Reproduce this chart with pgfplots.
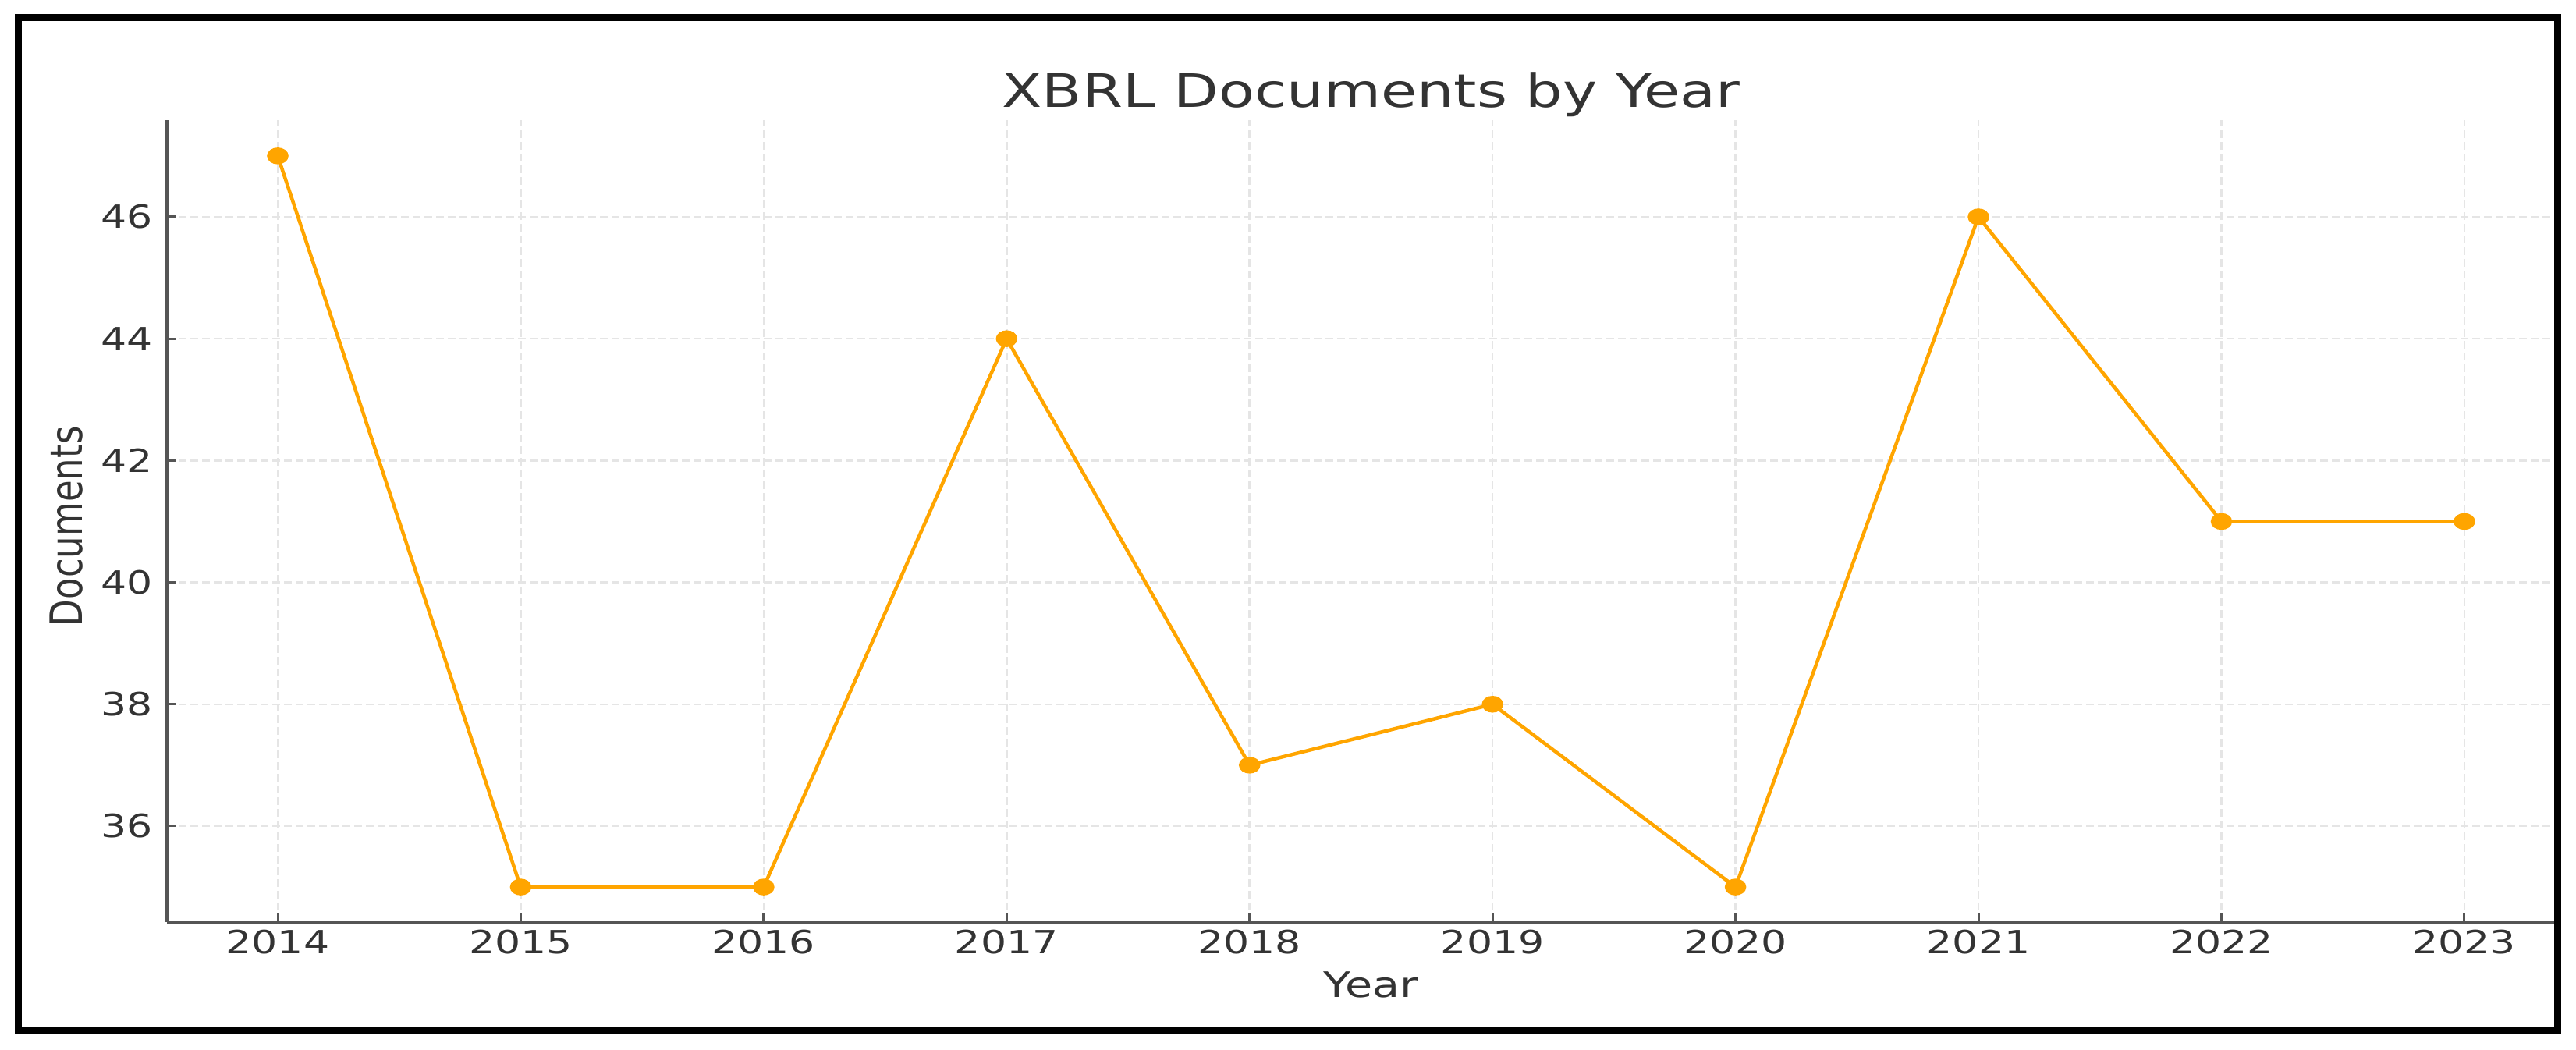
\documentclass[border=0pt]{standalone}
\usepackage{fontspec}
\setmainfont{DejaVu Sans}[FakeStretch=1.27]
\newfontfamily\plainfont{DejaVu Sans}
\usepackage{graphicx}
\usepackage{xcolor}
\usepackage{pgfplots}
\pgfplotsset{compat=1.18}
\definecolor{lineorange}{HTML}{FFA500}
\definecolor{spinegrey}{HTML}{555555}
\definecolor{txtgrey}{HTML}{333333}

\begin{document}
\begin{tikzpicture}
\path[use as bounding box] (0,0) rectangle (660.4pt,269.2pt);
\begin{axis}[
  at={(42.8pt,32.8pt)}, anchor=south west,
  scale only axis, width=612.9pt, height=205.6pt,
  xmin=2013.544, xmax=2023.384, ymin=34.425, ymax=47.588,
  axis x line*=bottom, axis y line*=left,
  axis line style={-, draw=spinegrey, line width=0.8pt},
  xtick={2014,2015,...,2023}, ytick={36,38,...,46},
  tick align=inside, major tick length=2.2pt,
  tick style={draw=spinegrey, line width=0.6pt},
  /pgf/number format/1000 sep={},
  /pgf/number format/assume math mode=true,
  tick label style={font=\fontsize{8.2}{10}\selectfont, text=txtgrey},
  xticklabel style={anchor=base, yshift=-8.2pt},
  yticklabel style={anchor=east, inner sep=0pt, xshift=-3.4pt},
  grid=major,
  grid style={draw=black!10, line width=0.5pt, dash pattern=on 2pt off 1pt},
  clip=false,
]
\addplot[lineorange, line width=0.9pt, mark=*, mark size=1.7pt,
  mark options={xscale=1.35, fill=lineorange, draw=lineorange}]
  coordinates {(2014,47) (2015,35) (2016,35) (2017,44) (2018,37)
               (2019,38) (2020,35) (2021,46) (2022,41) (2023,41)};
\node[anchor=base, text=txtgrey, font=\fontsize{11.8}{14}\selectfont, yshift=3.2pt]
  at (axis cs:2018.5,47.588) {XBRL Documents by Year};
\node[anchor=base, text=txtgrey, font=\fontsize{9}{11}\selectfont, yshift=-19.4pt]
  at (axis cs:2018.5,34.425) {Year};
\node[rotate=90, anchor=center, text=txtgrey, yshift=25.8pt]
  at (axis cs:2013.544,40.92) {\scalebox{1}[1.27]{\plainfont\fontsize{9}{11}\selectfont Documents}};
\end{axis}
\draw[line width=1.9pt] (4.7pt,5pt) rectangle (655.7pt,264.7pt);
\end{tikzpicture}
\end{document}
